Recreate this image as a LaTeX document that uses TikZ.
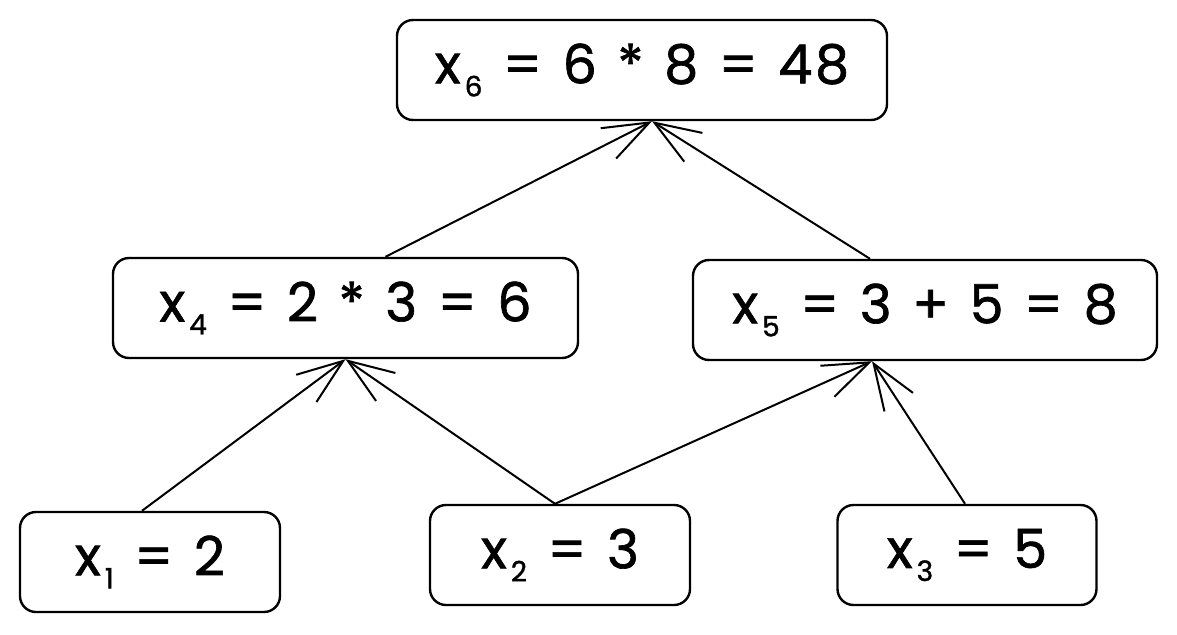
\documentclass[tikz,border=0pt]{standalone}
\usepackage{fontspec}
\setmainfont{Poppins}[FakeBold=1.2, LetterSpace=5, WordSpace=1.2]
\usetikzlibrary{arrows.meta}
\newcommand\sbx[1]{\hspace{4pt}\raisebox{-13pt}{\fontsize{28}{30}\selectfont #1}}
\begin{document}
\begin{tikzpicture}[x=1pt,y=-1pt,
  box/.style={draw, line width=2.4pt, rounded corners=16pt, minimum height=100pt, inner sep=0pt,
    font=\fontsize{54}{60}\selectfont},
  arr/.style={line width=2pt, -{Straight Barb[length=46pt,width=34pt,line width=2pt]}}
]
\useasboundingbox (0,0) rectangle (1177,634);
\node[box, minimum width=490pt] (x6) at (642,70) {x\sbx{6} = 6 * 8 = 48};
\node[box, minimum width=465pt] (x4) at (345.5,308) {x\sbx{4} = 2 * 3 = 6};
\node[box, minimum width=464pt] (x5) at (925,310) {x\sbx{5} = 3 + 5 = 8};
\node[box, minimum width=260pt] (x1) at (150,562) {x\sbx{1} = 2};
\node[box, minimum width=260pt] (x2) at (560,555) {x\sbx{2} = 3};
\node[box, minimum width=259pt] (x3) at (967,555) {x\sbx{3} = 5};

\draw[arr] ([xshift=40pt]x4.north) -- ([xshift=10pt]x6.south);
\draw[arr] ([xshift=-55pt]x5.north) -- ([xshift=10pt]x6.south);
\draw[arr] ([xshift=-8pt]x1.north) -- ([xshift=0pt]x4.south);
\draw[arr] ([xshift=-5pt]x2.north) -- ([xshift=0pt]x4.south);
\draw[arr] ([xshift=-5pt]x2.north) -- ([xshift=-53pt]x5.south);
\draw[arr] ([xshift=-2pt]x3.north) -- ([xshift=-53pt]x5.south);
\end{tikzpicture}
\end{document}
